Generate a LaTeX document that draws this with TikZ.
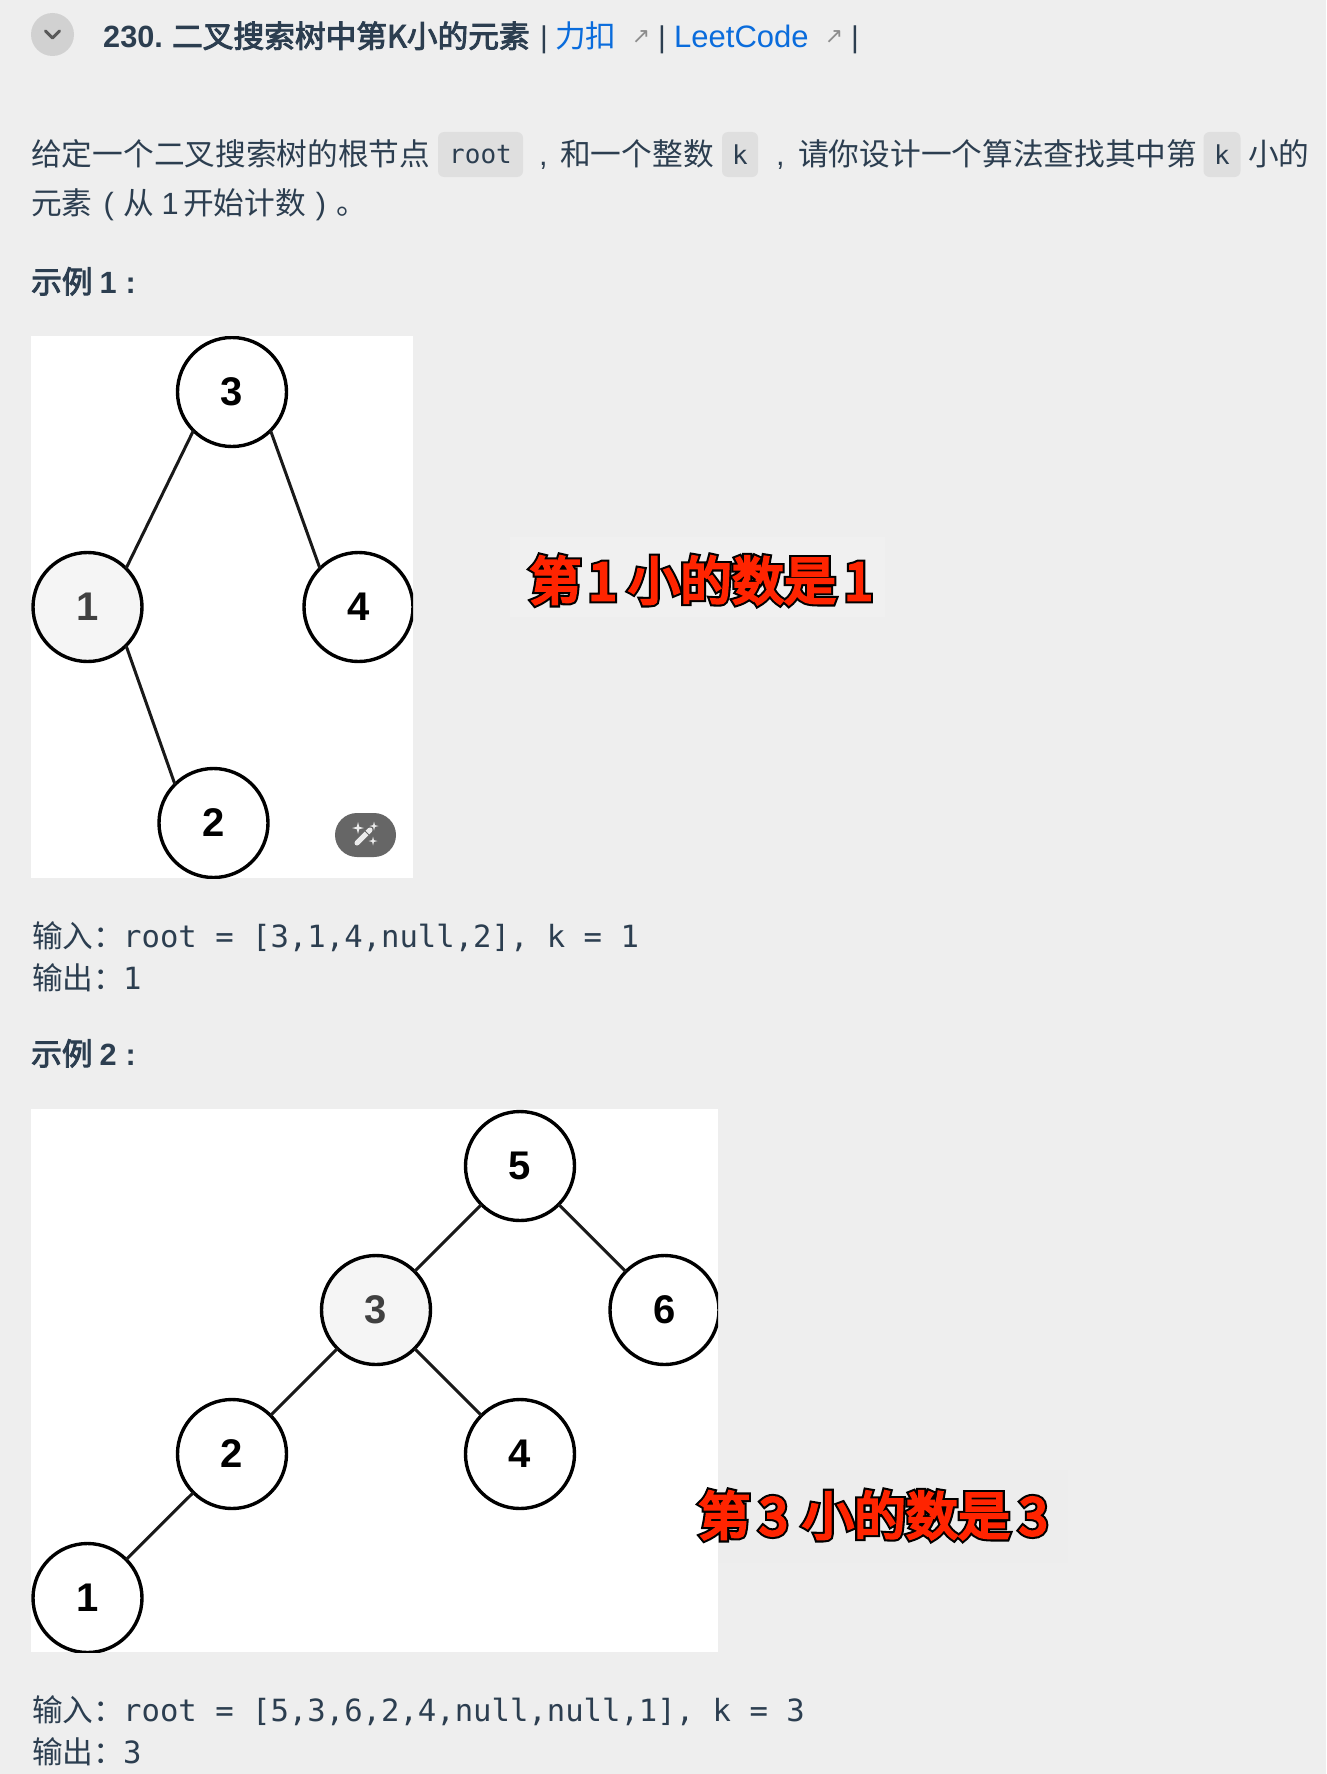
\documentclass[tikz,border=0pt]{standalone}
\usepackage{fontspec}
\setmainfont{Liberation Sans}
\setmonofont{DejaVu Sans Mono}
\newfontfamily\cjk{Noto Sans CJK SC}
\newfontfamily\cjkhead[FakeBold=3]{Noto Sans CJK SC}
\newfontfamily\cjkfill[FakeBold=5]{Noto Sans CJK SC}
\newfontfamily\cjkedge[FakeBold=13]{Noto Sans CJK SC}
\newfontfamily\symfont{DejaVu Sans}
\definecolor{pagegrey}{HTML}{EEEEEE}
\definecolor{inkblue}{HTML}{2C3E50}
\definecolor{linkblue}{HTML}{0A6CDC}
\definecolor{codegrey}{HTML}{DFDFDF}
\definecolor{marker}{HTML}{FF2400}
\newcommand{\outlined}[1]{\rlap{\cjkedge\color{black}#1}{\cjkfill\color{marker}#1}}
\tikzset{
    bodytext/.style={anchor=base west, inner sep=0pt, text=inkblue, font=\fontsize{30.7}{36}\selectfont\cjk},
    headtext/.style={bodytext, font=\fontsize{30.7}{36}\selectfont\cjkhead},
    linktext/.style={bodytext, text=linkblue},
    sanstext/.style={bodytext, font=\fontsize{30}{36}\selectfont\rmfamily},
    codetext/.style={anchor=base west, inner sep=0pt, text=inkblue, font=\fontsize{30.6}{36}\selectfont\ttfamily},
    codebox/.style={fill=codegrey, rounded corners=6pt, minimum height=45pt, inner sep=0pt, text=inkblue, font=\fontsize{26}{30}\selectfont\ttfamily},
    extmark/.style={anchor=center, inner sep=0pt, text=black!45, font=\fontsize{22}{24}\selectfont\symfont},
    treenode/.style={circle, draw=black, fill=white, line width=3.4pt, minimum size=109pt, inner sep=0pt, outer sep=0pt, font=\fontsize{40}{44}\selectfont\bfseries},
    visited/.style={treenode, fill=black!4, text=black!75},
    edge/.style={draw=black!90, line width=3pt},
    banner/.style={anchor=base west, inner sep=0pt, font=\fontsize{52}{56}\selectfont},
}
\begin{document}
\begin{tikzpicture}[x=1pt, y=-1pt]
  \fill[pagegrey] (0,0) rectangle (1326,1774);
  \useasboundingbox (0,0) rectangle (1326,1774);

  % header line
  \node [circle, fill=black!18, minimum size=43pt, inner sep=0pt] (fold) at (52.5,34.5) {};
  \draw [black!65, line width=3pt, line cap=round, line join=round] (45.5,31) -- (52.5,38) -- (59.5,31);
  \node [headtext] (title) at (103,47.5) {{\rmfamily\bfseries 230.} 二叉搜索树中第K小的元素};
  \node [sanstext] (bar1) at (540,47.5) {|};
  \node [linktext] (likou) at (555,47.5) {力扣};
  \node [extmark] (ext1) at (641,37) {↗};
  \node [sanstext] (bar2) at (658,47.5) {|};
  \node [linktext, font=\fontsize{31}{36}\selectfont\rmfamily] (leet) at (674,47.5) {LeetCode};
  \node [extmark] (ext2) at (834,37) {↗};
  \node [sanstext] (bar3) at (851,47.5) {|};

  % statement
  \node [bodytext] (intro) at (31,165) {给定一个二叉搜索树的根节点};
  \node [codebox, minimum width=85pt] (coderoot) at (480.5,154.5) {root};
  \node [bodytext] (introb) at (539,165) {{\rmfamily ,}\hspace{12.5pt}和一个整数};
  \node [codebox, minimum width=36pt] (codek) at (740,154.5) {k};
  \node [bodytext] (introc) at (776,165) {{\rmfamily ,}\hspace{13.5pt}请你设计一个算法查找其中第};
  \node [codebox, minimum width=37pt] (codekb) at (1222,154.5) {k};
  \node [bodytext] (introd) at (1248,165) {小的};
  \node [bodytext] (introe) at (31,214) {元素\hspace{11pt}{\rmfamily (}\hspace{10pt}从\hspace{7pt}{\rmfamily 1}\hspace{4.5pt}开始计数\hspace{10pt}{\rmfamily )}\hspace{10pt}。};

  % first example
  \node [headtext] (headone) at (31,293) {示例\hspace{7pt}{\rmfamily\bfseries 1}\hspace{9pt}{\rmfamily\bfseries :}};
  \fill [white] (31,336) rectangle (413,878);
  \begin{scope}
    \clip (31,336) rectangle (413,878);
    \node [treenode] (a3) at (232,392) {3};
    \node [visited] (a1) at (87.5,607) {1};
    \node [treenode] (a4) at (358.5,607) {4};
    \node [treenode] (a2) at (213.5,823) {2};
    \draw [edge] (a3.south west) -- (a1.north east);
    \draw [edge] (a3.south east) -- (a4.north west);
    \draw [edge] (a1.south east) -- (a2.north west);
  \end{scope}
  \node [fill=black!60, rounded corners=22pt, minimum width=61pt, minimum height=44pt, inner sep=0pt] (wand) at (365.5,835) {};
  \draw [black!8, line width=5pt, line cap=round] (357,843) -- (370,830);
  \draw [black!60, line width=1pt] (365,831) -- (369,835);
  \foreach \x/\y/\r in {358/828/6, 374/826/4.5, 373/841/4.5}
    \fill [black!8] (\x-\r,\y) -- (\x-.2*\r,\y-.2*\r) -- (\x,\y-\r) -- (\x+.2*\r,\y-.2*\r) -- (\x+\r,\y) -- (\x+.2*\r,\y+.2*\r) -- (\x,\y+\r) -- (\x-.2*\r,\y+.2*\r) -- cycle;
  \fill [black!6] (510,537) rectangle (885,617);
  \node [banner] (bannerone) at (529,600) {\outlined{第\hspace{7pt}1\hspace{11pt}小的数是\hspace{8pt}1}};

  \node [bodytext] (inone) at (32,947) {输入：};
  \node [codetext] (incodeone) at (123,947) {root = [3,1,4,null,2], k = 1};
  \node [bodytext] (outone) at (32,989) {输出：};
  \node [codetext] (outcodeone) at (123,989) {1};

  % second example
  \node [headtext] (headtwo) at (31,1065) {示例\hspace{7pt}{\rmfamily\bfseries 2}\hspace{9pt}{\rmfamily\bfseries :}};
  \fill [white] (31,1109) rectangle (718,1652);
  \begin{scope}
    \clip (31,1109) rectangle (718,1652);
    \node [treenode] (b5) at (520,1166) {5};
    \node [visited] (b3) at (376,1310) {3};
    \node [treenode] (b6) at (664.5,1310) {6};
    \node [treenode] (b2) at (232,1454) {2};
    \node [treenode] (b4) at (520,1454) {4};
    \node [treenode] (b1) at (87.5,1598) {1};
    \draw [edge] (b5) -- (b3);
    \draw [edge] (b5) -- (b6);
    \draw [edge] (b3) -- (b2);
    \draw [edge] (b3) -- (b4);
    \draw [edge] (b2) -- (b1);
  \end{scope}
  \fill [black!7] (718,1470) rectangle (1068,1563);
  \node [banner] (bannertwo) at (698,1535) {\outlined{第\hspace{9pt}3\hspace{14pt}小的数是\hspace{9pt}3}};

  \node [bodytext] (intwo) at (32,1721) {输入：};
  \node [codetext] (incodetwo) at (123,1721) {root = [5,3,6,2,4,null,null,1], k = 3};
  \node [bodytext] (outtwo) at (32,1763) {输出：};
  \node [codetext] (outcodetwo) at (123,1763) {3};
\end{tikzpicture}
\end{document}
